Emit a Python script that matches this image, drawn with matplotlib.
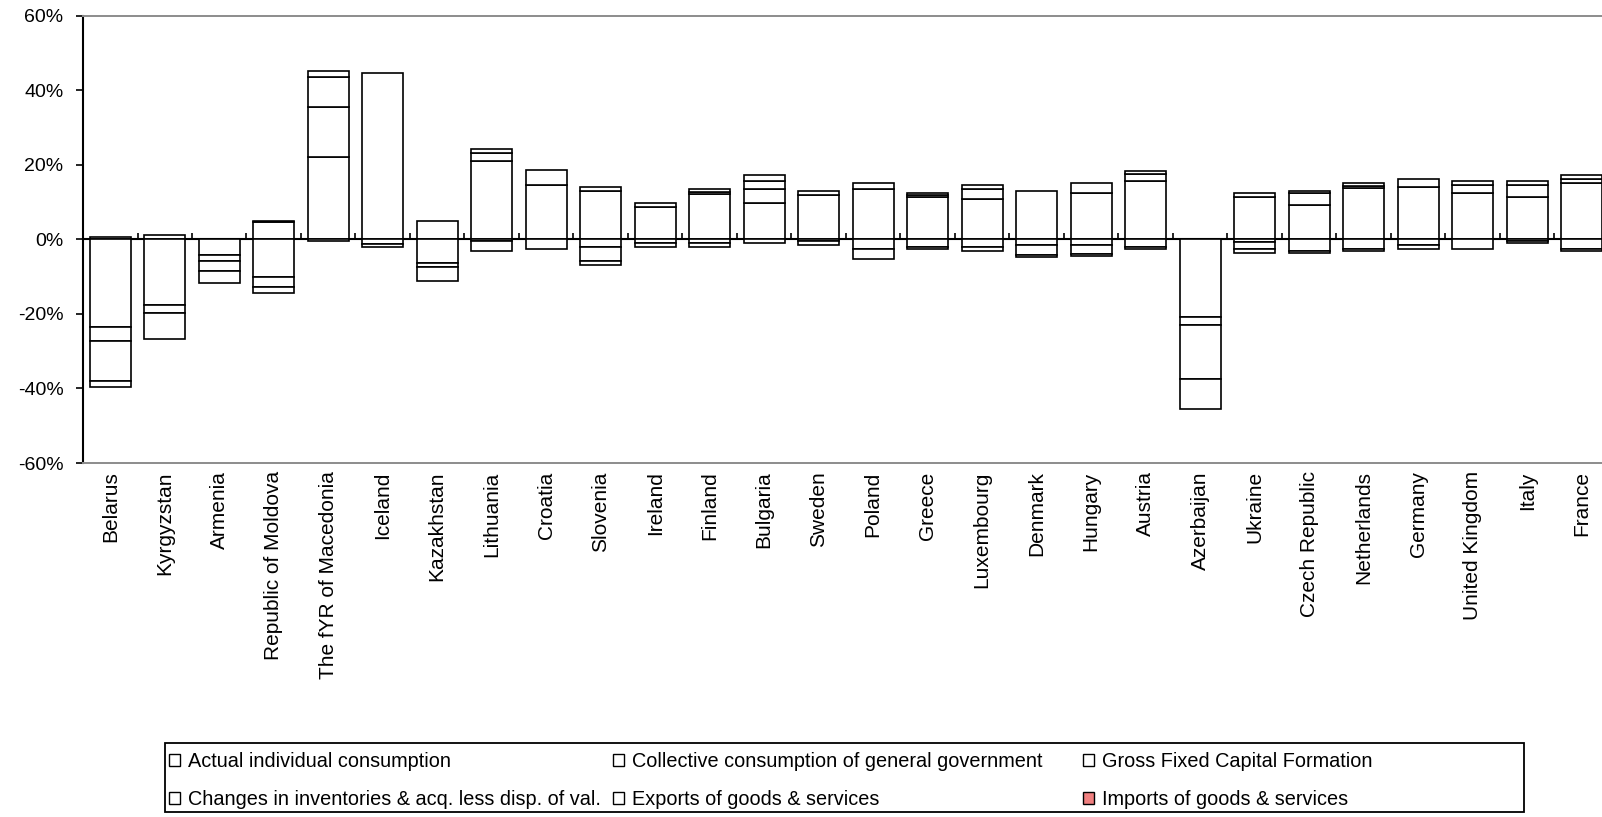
import numpy as np
import matplotlib
matplotlib.use('Agg')
import matplotlib.pyplot as plt
from matplotlib.patches import Patch, Rectangle
from matplotlib.ticker import PercentFormatter

plt.rcParams['font.family'] = ['Liberation Sans', 'DejaVu Sans']
plt.rcParams['axes.unicode_minus'] = False

countries = ['Belarus', 'Kyrgyzstan', 'Armenia', 'Republic of Moldova', 'The fYR of Macedonia',
             'Iceland', 'Kazakhstan', 'Lithuania', 'Croatia', 'Slovenia', 'Ireland', 'Finland',
             'Bulgaria', 'Sweden', 'Poland', 'Greece', 'Luxembourg', 'Denmark', 'Hungary',
             'Austria', 'Azerbaijan', 'Ukraine', 'Czech Republic', 'Netherlands', 'Germany',
             'United Kingdom', 'Italy', 'France']

# values in %
aic = [0.5, 1.1, 0, 4.5, 22.0, 44.6, 4.9, 20.9, 14.6, 12.9, 8.7, 12.2, 9.7, 11.9,
       13.5, 11.2, 10.7, 12.9, 12.4, 15.6, 0, 11.3, 9.2, 13.8, 14.0, 12.4, 11.3, 15.1]
collective = [0, 0, 0, 0.4, 13.4, 0, 0, 2.2, 4.1, 1.0, 1.0, 0.6, 3.8, 1.0,
              1.5, 0.6, 2.7, 0, 2.6, 2.0, 0, 1.1, 3.1, 0.6, 2.1, 2.2, 3.2, 1.0]
gfcf = [-23.5, 0, -4.2, 0, 8.1, 0, 0, 1.1, 0, 0, 0, 0.6, 2.1, 0,
        0, 0.6, 1.1, 0, 0, 0.6, -20.8, 0, 0.6, 0.6, 0, 0.9, 1.0, 1.0]
inventories = [-3.7, -17.7, -1.7, -10.1, 1.6, 0, -6.3, 0, 0, -2.1, 0, 0, 1.7, 0,
               0, 0, 0, -1.5, -1.5, 0, -2.2, -0.7, 0, 0, 0, 0, 0, 0]
exports = [-10.8, -2.0, -2.6, -2.7, 0, -1.2, -1.1, -0.5, 0, -3.8, -1.0, -1.0, 0, -0.4,
           -2.6, -2.1, -2.1, -2.8, -2.5, -2.1, -14.5, -1.8, -3.2, -2.5, -1.6, 0, -0.6, -2.5]
imports = [-1.6, -7.1, -3.3, -1.7, -0.4, -0.9, -3.8, -2.6, -2.6, -1.1, -1.1, -1.1, -1.0, -1.1,
           -2.8, -0.5, -1.1, -0.5, -0.5, -0.5, -8.0, -1.2, -0.6, -0.6, -0.9, -2.6, -0.4, -0.7]

series = [aic, collective, gfcf, inventories, exports, imports]
labels = ['Actual individual consumption', 'Collective consumption of general government',
          'Gross Fixed Capital Formation', 'Changes in inventories & acq. less disp. of val.',
          'Exports of goods & services', 'Imports of goods & services']
legend_colors = ['white', 'white', 'white', 'white', 'white', '#f08080']

W, H = 1602, 817
fig = plt.figure(figsize=(W / 100, H / 100), dpi=100)
ax = fig.add_axes([83 / W, (H - 463) / H, 28 * 54.5 / W, (463 - 15.5) / H])

x = np.arange(len(countries))
pos = np.zeros(len(x))
neg = np.zeros(len(x))
for vals in series:
    v = np.array(vals, dtype=float)
    bottom = np.where(v >= 0, pos, neg)
    ax.bar(x, v, bottom=bottom, width=0.75, color='white', edgecolor='black',
           linewidth=np.where(v == 0, 0, 1.2), zorder=3)
    pos += np.clip(v, 0, None)
    neg += np.clip(v, None, 0)

ax.set_xlim(-0.5, len(x) - 0.5)
ax.set_ylim(-60, 60)
ax.set_yticks(np.arange(-60, 61, 20))
ax.yaxis.set_major_formatter(PercentFormatter(xmax=100, decimals=0))
ax.tick_params(axis='y', direction='out', length=5, width=1.2, pad=9, labelsize=14)
ax.set_xticks(x)
ax.set_xticklabels(countries, rotation=90, fontsize=15)
ax.tick_params(axis='x', length=0, pad=6)

for s in ['top', 'bottom']:
    ax.spines[s].set_color('#8c8c8c')
    ax.spines[s].set_linewidth(1.4)
ax.spines['left'].set_linewidth(1.5)
ax.spines['right'].set_visible(False)

# category axis crossing at zero
zax = ax.secondary_xaxis(0.5)
zax.set_xticks(np.arange(len(x) + 1) - 0.5)
zax.set_xticklabels([])
zax.tick_params(direction='out', length=4, width=1.2)
zax.spines['bottom'].set_linewidth(1.5)
zax.spines['top'].set_linewidth(1.5)

# legend: 3 columns, 2 rows
handles = [Patch(facecolor=c, edgecolor='black', linewidth=1.0) for c in legend_colors]
col_x = [169, 613, 1083]
for col in range(3):
    idx = [col, col + 3]
    fig.legend([handles[i] for i in idx], [labels[i] for i in idx],
               loc='upper left', bbox_to_anchor=(col_x[col] / W, 1 - 752 / H), frameon=False,
               fontsize=14.3, handlelength=0.55, handleheight=0.55, handletextpad=0.4,
               labelspacing=0.95, borderaxespad=0, borderpad=0)
fig.patches.append(Rectangle((165 / W, 1 - 812 / H), (1524 - 165) / W, (812 - 743) / H,
                             transform=fig.transFigure, fill=False, edgecolor='black',
                             linewidth=1.3))

fig.savefig('out.png', dpi=100)
